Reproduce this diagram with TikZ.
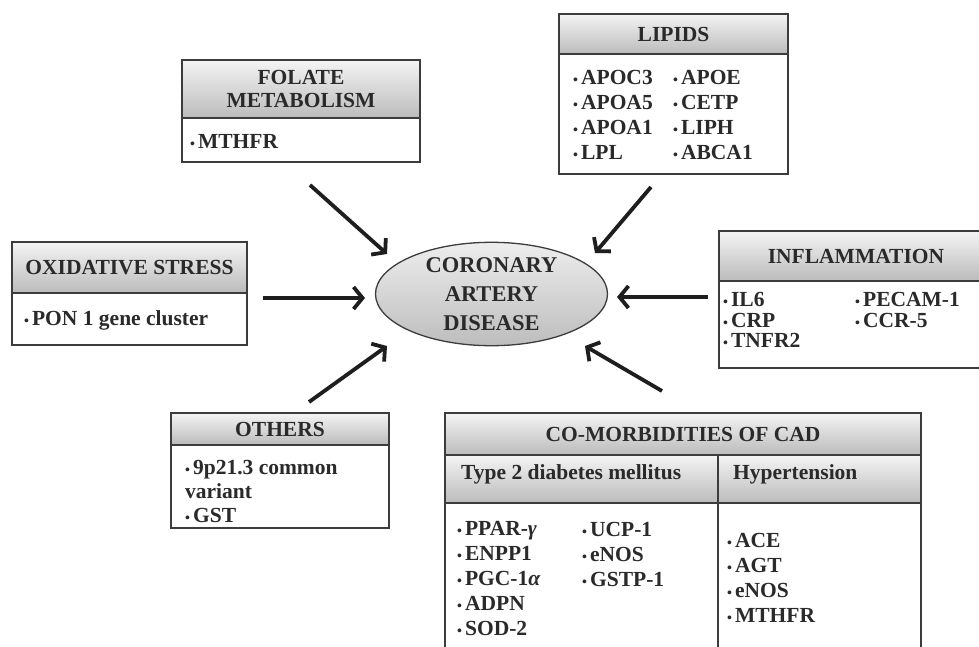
\documentclass[tikz,border=0pt]{standalone}
\usepackage{fontspec}
\setmainfont{Liberation Serif}
\usetikzlibrary{arrows.meta,shapes.geometric}
\definecolor{boxline}{HTML}{3C3C3C}
\definecolor{hdrtop}{HTML}{F4F4F4}
\definecolor{hdrbot}{HTML}{BBBBBB}
\definecolor{elltop}{HTML}{EDEDED}
\definecolor{ellbot}{HTML}{BDBDBD}
\definecolor{txt}{HTML}{2A2A2A}
\definecolor{arrowc}{HTML}{1E1E1E}
\newcommand{\bulitem}{{\fontsize{14}{14}\selectfont\textbullet}\hspace{3pt}}
\begin{document}
\begin{tikzpicture}[x=1pt,y=-1pt,
  hdr/.style={draw=boxline, line width=1.3pt, top color=hdrtop, bottom color=hdrbot, inner sep=0pt, align=center,
    font=\fontsize{21.5}{23}\selectfont\bfseries, text=txt},
  bodybox/.style={draw=boxline, line width=1.3pt, fill=white, inner sep=0pt},
  itxt/.style={font=\fontsize{21.5}{25}\selectfont\bfseries, text=txt, anchor=west, inner sep=0pt, align=left},
  arr/.style={line width=3.8pt, draw=arrowc, -{Straight Barb[length=9pt,width=22pt]}}]
\useasboundingbox (0,0) rectangle (979,647);
\begin{scope}
\clip (0,0) rectangle (979,647);
\fill[white] (0,0) rectangle (979,647);

% FOLATE
\node[hdr, minimum width=238, minimum height=58] (folh) at (301,89) {FOLATE\\METABOLISM};
\node[bodybox, minimum width=238, minimum height=44] (folb) at (301,140) {};
\node[itxt] (folt) at (190,141) {\bulitem MTHFR};

% OXIDATIVE STRESS
\node[hdr, minimum width=235, minimum height=51] (oxih) at (129.5,267.5) {OXIDATIVE STRESS};
\node[bodybox, minimum width=235, minimum height=52] (oxib) at (129.5,319) {};
\node[itxt] (oxit) at (24,320) {\bulitem PON 1 gene cluster};

% LIPIDS
\node[hdr, minimum width=229, minimum height=40] (liph) at (673.5,34) {LIPIDS};
\node[bodybox, minimum width=229, minimum height=120] (lipb) at (673.5,114) {};
\node[itxt] (lipa) at (573,115) {\bulitem APOC3\\\bulitem APOA5\\\bulitem APOA1\\\bulitem LPL};
\node[itxt] (lipc) at (673,115) {\bulitem APOE\\\bulitem CETP\\\bulitem LIPH\\\bulitem ABCA1};

% INFLAMMATION
\node[hdr, minimum width=274, minimum height=50] (infh) at (856,256) {INFLAMMATION};
\node[bodybox, minimum width=274, minimum height=87] (infb) at (856,324.5) {};
\node[itxt, font=\fontsize{21.5}{20.5}\selectfont\bfseries] (infa) at (723,320) {\bulitem IL6\\\bulitem CRP\\\bulitem TNFR2};
\node[itxt, font=\fontsize{21.5}{20.5}\selectfont\bfseries] (infc) at (855,310) {\bulitem PECAM-1\\\bulitem CCR-5};

% OTHERS
\node[hdr, minimum width=218, minimum height=32] (othh) at (280,429) {OTHERS};
\node[bodybox, minimum width=218, minimum height=83] (othb) at (280,486.5) {};
\node[itxt, font=\fontsize{21.5}{24}\selectfont\bfseries] (otht) at (185,491) {\bulitem 9p21.3 common\\variant\\\bulitem GST};

% CO-MORBIDITIES
\node[hdr, minimum width=476, minimum height=42] (comh) at (683,434) {CO-MORBIDITIES OF CAD};
\node[hdr, minimum width=273, minimum height=48] (coml) at (581.5,479) {};
\node[hdr, minimum width=203, minimum height=48] (comr) at (819.5,479) {};
\node[itxt] (comlt) at (461,474) {Type 2 diabetes mellitus};
\node[itxt] (comrt) at (733,474) {Hypertension};
\node[bodybox, minimum width=273, minimum height=170, anchor=north] (comlb) at (581.5,503) {};
\node[bodybox, minimum width=203, minimum height=170, anchor=north] (comrb) at (819.5,503) {};
\node[itxt] (coma) at (457,579) {\bulitem PPAR-{\itshape γ}\\\bulitem ENPP1\\\bulitem PGC-1{\itshape α}\\\bulitem ADPN\\\bulitem SOD-2};
\node[itxt] (comc) at (582,554) {\bulitem UCP-1\\\bulitem eNOS\\\bulitem GSTP-1};
\node[itxt] (comd) at (727,578) {\bulitem ACE\\\bulitem AGT\\\bulitem eNOS\\\bulitem MTHFR};

% CENTER
\node[ellipse, draw=boxline, line width=1.3pt, top color=elltop, bottom color=ellbot,
  minimum width=232, minimum height=103, inner sep=0pt, align=center,
  font=\fontsize{22.5}{29}\selectfont\bfseries, text=txt] (cad) at (491.5,294) {CORONARY\\ARTERY\\DISEASE};

% arrow endpoints
\coordinate (fol1) at (310,185); \coordinate (fol2) at (387,254);
\coordinate (oxi1) at (263,298); \coordinate (oxi2) at (365,298);
\coordinate (lip1) at (651,187); \coordinate (lip2) at (595,253);
\coordinate (inf1) at (708,297); \coordinate (inf2) at (617,297);
\coordinate (oth1) at (309,402); \coordinate (oth2) at (387,346);
\coordinate (com1) at (662,391); \coordinate (com2) at (585,346);
\draw[arr] (fol1) -- (fol2);
\draw[arr] (oxi1) -- (oxi2);
\draw[arr] (lip1) -- (lip2);
\draw[arr] (inf1) -- (inf2);
\draw[arr] (oth1) -- (oth2);
\draw[arr] (com1) -- (com2);
\end{scope}
\end{tikzpicture}
\end{document}
